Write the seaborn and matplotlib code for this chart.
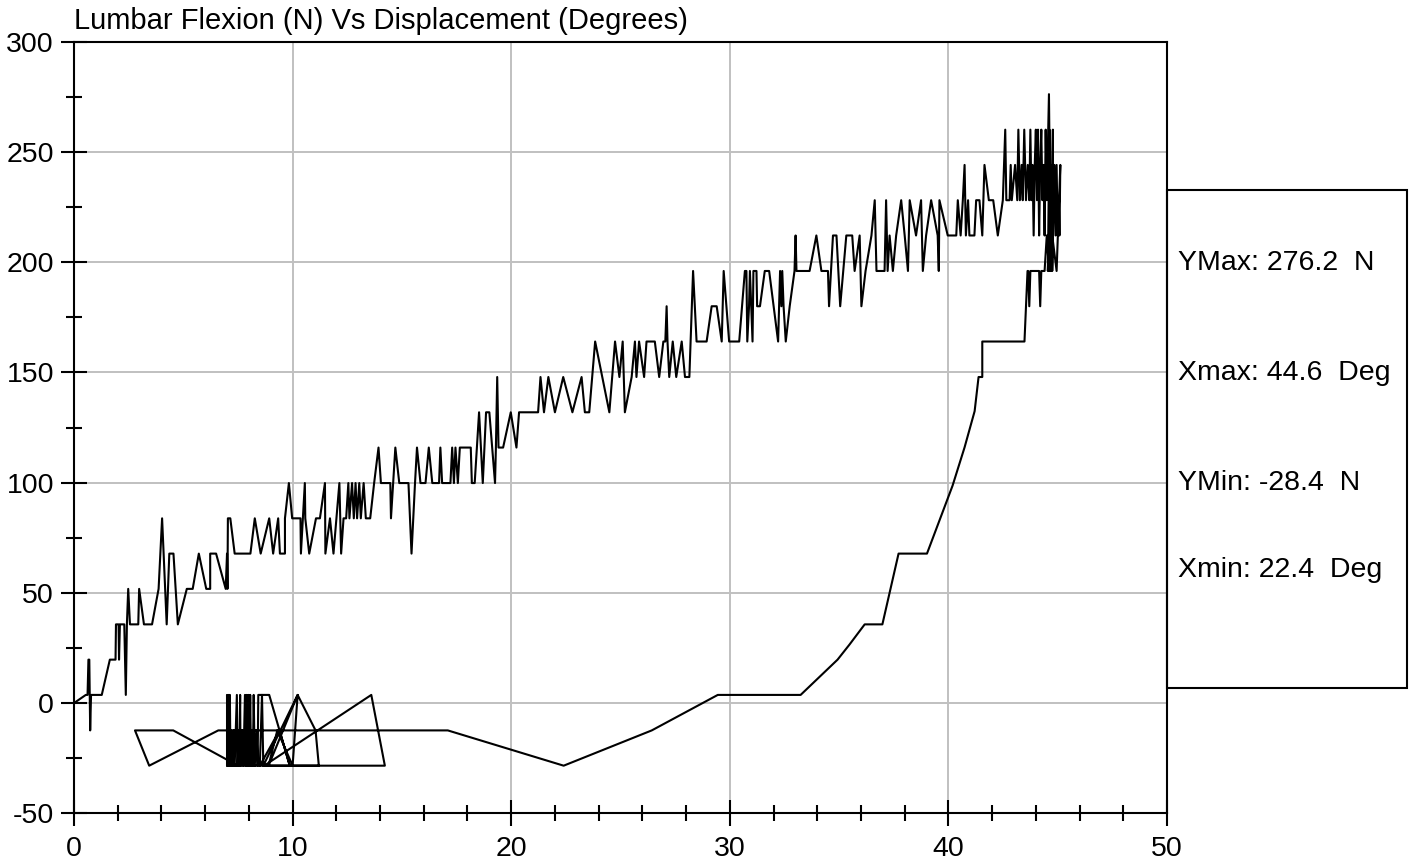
import numpy as np
import pandas as pd
import matplotlib
matplotlib.use("Agg")
import matplotlib.pyplot as plt
from matplotlib.patches import Rectangle
import seaborn as sns

# ---------------- data ----------------
load_x = [0.0, 0.54, 0.62, 0.66, 0.70, 0.74, 0.78, 1.27, 1.64, 1.90,
          1.92, 2.04, 2.06, 2.10, 2.30, 2.37, 2.42, 2.48, 2.56, 2.94,
          2.98, 3.20, 3.57, 3.87, 4.03, 4.24, 4.36, 4.55, 4.75, 5.16,
          5.43, 5.71, 6.05, 6.23, 6.23, 6.50, 6.94, 7.00, 7.02, 7.04,
          7.15, 7.35, 8.07, 8.27, 8.54, 8.93, 9.11, 9.34, 9.42, 9.65,
          9.65, 9.83, 9.98, 10.36, 10.38, 10.56, 10.58, 10.76, 11.07, 11.25,
          11.48, 11.50, 11.71, 11.87, 12.14, 12.22, 12.33, 12.45, 12.55, 12.60,
          12.72, 12.80, 12.88, 12.95, 13.05, 13.12, 13.25, 13.35, 13.55, 13.73,
          13.93, 14.04, 14.47, 14.50, 14.70, 14.88, 15.08, 15.30, 15.44, 15.60,
          15.69, 15.85, 16.08, 16.23, 16.39, 16.70, 16.76, 16.84, 17.22, 17.30,
          17.38, 17.45, 17.56, 17.65, 18.15, 18.20, 18.33, 18.53, 18.70, 18.85,
          19.00, 19.26, 19.30, 19.36, 19.42, 19.63, 19.98, 20.24, 20.36, 21.23,
          21.34, 21.50, 21.70, 22.00, 22.38, 22.80, 23.22, 23.37, 23.57, 23.84,
          24.49, 24.75, 24.95, 25.10, 25.20, 25.51, 25.66, 25.73, 25.85, 26.08,
          26.19, 26.57, 26.77, 26.96, 27.05, 27.11, 27.15, 27.23, 27.39, 27.55,
          27.80, 27.95, 28.15, 28.32, 28.48, 28.63, 28.94, 29.17, 29.40, 29.63,
          29.72, 29.97, 30.43, 30.69, 30.76, 30.80, 30.88, 30.92, 31.04, 31.08,
          31.22, 31.25, 31.38, 31.60, 31.80, 32.21, 32.30, 32.36, 32.40, 32.46,
          32.56, 32.74, 32.96, 33.01, 33.05, 33.65, 33.96, 34.19, 34.49, 34.54,
          34.72, 34.88, 35.05, 35.33, 35.60, 35.71, 35.94, 36.02, 36.21, 36.48,
          36.63, 36.71, 37.08, 37.15, 37.22, 37.31, 37.46, 37.61, 37.84, 38.00,
          38.15, 38.23, 38.52, 38.75, 38.83, 38.98, 39.21, 39.51, 39.56, 39.59,
          39.97, 40.36, 40.43, 40.56, 40.66, 40.74, 40.80, 40.90, 40.96, 41.19,
          41.27, 41.42, 41.55, 41.65, 41.85, 42.05, 42.26, 42.49, 42.60, 42.65]
load_y = [0.0, 3.7, 3.7, 19.7, 19.7, -12.4, 3.7, 3.7, 19.7, 19.7,
          35.7, 35.7, 19.7, 35.7, 35.7, 3.7, 35.7, 51.8, 35.7, 35.7,
          51.8, 35.7, 35.7, 51.8, 83.8, 35.7, 67.8, 67.8, 35.7, 51.8,
          51.8, 67.8, 51.8, 51.8, 67.8, 67.8, 51.8, 67.8, 51.8, 83.8,
          83.8, 67.8, 67.8, 83.8, 67.8, 83.8, 67.8, 83.8, 67.8, 67.8,
          83.8, 99.8, 83.8, 83.8, 67.8, 99.8, 83.8, 67.8, 83.8, 83.8,
          99.8, 67.8, 83.8, 67.8, 99.8, 67.8, 83.8, 83.8, 99.8, 83.8,
          99.8, 83.8, 99.8, 83.8, 99.8, 83.8, 99.8, 83.8, 83.8, 99.8,
          115.9, 99.8, 99.8, 83.8, 115.9, 99.8, 99.8, 99.8, 67.8, 99.8,
          115.9, 99.8, 99.8, 115.9, 99.8, 99.8, 115.9, 99.8, 99.8, 115.9,
          99.8, 115.9, 99.8, 115.9, 115.9, 99.8, 99.8, 131.9, 99.8, 131.9,
          131.9, 99.8, 115.9, 147.9, 115.9, 115.9, 131.9, 115.9, 131.9, 131.9,
          147.9, 131.9, 147.9, 131.9, 147.9, 131.9, 147.9, 131.9, 131.9, 164.0,
          131.9, 164.0, 147.9, 164.0, 131.9, 147.9, 164.0, 147.9, 164.0, 147.9,
          164.0, 164.0, 147.9, 164.0, 164.0, 180.0, 164.0, 147.9, 164.0, 147.9,
          164.0, 147.9, 147.9, 196.0, 164.0, 164.0, 164.0, 180.0, 180.0, 164.0,
          196.0, 164.0, 164.0, 196.0, 196.0, 164.0, 180.0, 196.0, 164.0, 196.0,
          196.0, 180.0, 180.0, 196.0, 196.0, 164.0, 196.0, 180.0, 196.0, 180.0,
          164.0, 180.0, 196.0, 212.1, 196.0, 196.0, 212.1, 196.0, 196.0, 180.0,
          212.1, 212.1, 180.0, 212.1, 212.1, 196.0, 212.1, 180.0, 196.0, 212.1,
          228.1, 196.0, 196.0, 228.1, 196.0, 212.1, 196.0, 212.1, 228.1, 212.1,
          196.0, 228.1, 212.1, 228.1, 196.0, 212.1, 228.1, 212.1, 196.0, 228.1,
          212.1, 212.1, 228.1, 212.1, 228.1, 244.1, 212.1, 228.1, 212.1, 212.1,
          228.1, 228.1, 212.1, 244.1, 228.1, 228.1, 212.1, 228.1, 260.1, 228.1]

peak_x = [42.80, 42.85, 42.90, 43.05, 43.15, 43.20, 43.27, 43.35, 43.40, 43.47,
          43.55, 43.63, 43.70, 43.75, 43.80, 43.85, 43.90, 43.95, 44.00, 44.05,
          44.10, 44.15, 44.20, 44.25, 44.30, 44.35, 44.40, 44.45, 44.50, 44.60,
          44.65, 44.55, 44.62, 44.60, 44.68, 44.65, 44.72, 44.70, 44.78, 44.75,
          44.85, 44.90, 44.95, 45.00, 45.05, 45.08, 45.12, 44.95, 44.75, 44.60,
          44.50, 44.40, 44.25, 44.20, 44.15, 43.75, 43.70, 43.65]
peak_y = [228.1, 244.1, 228.1, 244.1, 228.1, 260.1, 228.1, 244.1, 228.1, 260.1,
          228.1, 244.1, 228.1, 260.1, 228.1, 244.1, 212.1, 244.1, 260.1, 228.1,
          260.1, 212.1, 244.1, 260.1, 228.1, 244.1, 212.1, 260.1, 228.1, 276.2,
          228.1, 196.0, 260.1, 196.0, 244.1, 196.0, 228.1, 196.0, 260.1, 196.0,
          244.1, 212.1, 244.1, 212.1, 228.1, 212.1, 244.1, 196.0, 212.1, 196.0,
          212.1, 196.0, 196.0, 180.0, 196.0, 196.0, 180.0, 196.0]

return_x = [43.62, 43.48, 41.55, 41.55, 41.38, 41.20, 40.74, 40.19, 39.02, 37.72,
            36.98, 36.17, 35.48, 34.93, 33.24, 29.45, 26.43, 22.40, 17.10, 6.60,
            3.44, 2.79, 4.54, 7.50]
return_y = [196.0, 164.0, 164.0, 147.9, 147.9, 132.4, 116.0, 98.6, 67.8, 67.8,
            35.7, 35.7, 26.6, 19.7, 3.7, 3.7, -12.4, -28.4, -12.4, -12.4,
            -28.4, -12.4, -12.4, -28.4]

tangle_x = [7.00, 7.00, 7.04, 7.06, 7.09, 7.10, 7.13, 7.13, 7.16, 7.20,
            7.25, 7.30, 7.35, 7.45, 7.48, 7.52, 7.56, 7.60, 7.62, 7.70,
            7.75, 7.82, 7.86, 7.90, 7.94, 7.98, 8.02, 8.06, 8.10, 8.14,
            8.18, 8.22, 8.27, 8.35, 8.40, 8.43, 8.93, 9.87, 9.40, 8.50,
            8.60, 8.66, 10.23, 10.00, 9.30, 8.90, 10.23, 11.05, 11.20, 8.70,
            13.60, 14.22, 7.00]
tangle_y = [-28.4, 3.7, -28.4, 3.7, -28.4, -12.4, -28.4, 3.7, -28.4, -12.4,
            -28.4, -12.4, -28.4, 3.7, -28.4, -12.4, -28.4, 3.7, -28.4, -12.4,
            -28.4, 3.7, -28.4, 3.7, -28.4, 3.7, -28.4, 3.7, -28.4, -12.4,
            -28.4, 3.7, -28.4, -12.4, -28.4, 3.7, 3.7, -28.4, -12.4, -28.4,
            3.7, -28.4, 3.7, -28.4, -12.4, -28.4, 3.7, -12.4, -28.4, -28.4,
            3.7, -28.4, -28.4]

title_text = "Lumbar Flexion (N) Vs Displacement (Degrees)"
stats_text = ["YMax: 276.2  N", "Xmax: 44.6  Deg", "YMin: -28.4  N", "Xmin: 22.4  Deg"]
x_major = [0, 10, 20, 30, 40, 50]
y_major = [-50, 0, 50, 100, 150, 200, 250, 300]

# ---------------- figure ----------------
sns.set_theme(style="white", rc={"text.color": "black", "xtick.color": "black",
                                 "ytick.color": "black", "axes.edgecolor": "black"})
plt.rcParams["font.family"] = ["Liberation Sans", "DejaVu Sans"]
plt.rcParams["axes.unicode_minus"] = False

W, H = 1411, 865
fig = plt.figure(figsize=(W / 100, H / 100), dpi=100)
left, right, top, bottom = 74, 1167, 41.7, 813.3
ax = fig.add_axes([left / W, 1 - bottom / H, (right - left) / W, (bottom - top) / H])

xs = load_x + peak_x + return_x + tangle_x
ys = load_y + peak_y + return_y + tangle_y
df = pd.DataFrame({"deg": xs, "force": ys})
sns.lineplot(data=df, x="deg", y="force", sort=False, estimator=None,
             color="black", linewidth=1.5, ax=ax, zorder=3)

ax.set_xlim(0, 50)
ax.set_ylim(-50, 300)
ax.set_xticks(x_major)
ax.set_xticks(np.arange(0, 51, 2), minor=True)
ax.set_yticks(y_major)
ax.set_yticks(np.arange(-50, 301, 25), minor=True)
ax.set_xticklabels([str(v) for v in x_major])
ax.set_yticklabels([str(v) for v in y_major])
ax.set_xlabel("")
ax.set_ylabel("")

ax.grid(True, which="major", color="#C0C0C0", linewidth=1.4)
ax.grid(False, which="minor")
ax.set_axisbelow(True)

for s in ax.spines.values():
    s.set_visible(True)
    s.set_color("black")
    s.set_linewidth(1.5)

ax.tick_params(which="major", direction="inout", length=19.4, width=1.5,
               labelsize=20.5, color="black")
ax.tick_params(which="minor", direction="inout", length=11.5, width=1.5, color="black")
ax.tick_params(axis="x", which="major", pad=6.5, bottom=True)
ax.tick_params(axis="y", which="major", pad=4.7, left=True)
ax.tick_params(axis="x", which="minor", bottom=True)
ax.tick_params(axis="y", which="minor", left=True)

ax.set_title(title_text, loc="left", fontsize=21, pad=8.8, color="black")

# statistics box at the right
box_l, box_r, box_t, box_b = 1167, 1407, 190, 688
fig.patches.append(Rectangle((box_l / W, 1 - box_b / H), (box_r - box_l) / W,
                             (box_b - box_t) / H, transform=fig.transFigure,
                             fill=False, edgecolor="black", linewidth=1.5))
baselines = [270, 380, 490, 577]
for txt, yb in zip(stats_text, baselines):
    fig.text(1178 / W, 1 - yb / H, txt, fontsize=20.5, va="baseline", ha="left",
             color="black")

fig.savefig("out.png", dpi=100)
